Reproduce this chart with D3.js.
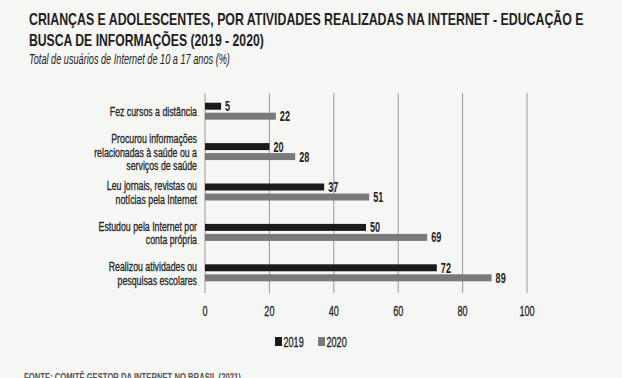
<!DOCTYPE html>
<html><head><meta charset="utf-8">
<script src="https://cdn.jsdelivr.net/npm/d3@7"></script>
<style>
html,body{margin:0;padding:0;background:#f6f6f5;}
svg{display:block;}
text{font-family:"Liberation Sans",Arial,sans-serif;}
</style></head>
<body>
<svg id="c" width="622" height="378"></svg>
<script>
const categories = [
  ["Fez cursos a distância"],
  ["Procurou informações", "relacionadas à saúde ou a", "serviços de saúde"],
  ["Leu jornais, revistas ou", "notícias pela Internet"],
  ["Estudou pela Internet por", "conta própria"],
  ["Realizou atividades ou", "pesquisas escolares"]
];
const series = ["2019", "2020"];
const values2019 = [5, 20, 37, 50, 72];
const values2020 = [22, 28, 51, 69, 89];
const xTicks = [0, 20, 40, 60, 80, 100];
const colors = ["#1b1b1b", "#7a7a7a"];

const SX = 0.65; // horizontal compression to mimic condensed font
const svg = d3.select("#c");
const W = 622, H = 378;
svg.append("rect").attr("width", W).attr("height", H).attr("fill", "#f6f6f5");

function ctext(parent, x, y, str, anchor, size, weight, fill, sx) {
  const g = parent.append("g").attr("transform", `translate(${x},${y}) scale(${sx || SX},1)`);
  return g.append("text").attr("x",0).attr("y",0)
    .attr("text-anchor", anchor || "start")
    .attr("font-size", size).attr("font-weight", weight || "normal")
    .attr("fill", fill || "#222").text(str);
}
// text squeezed to a target width
function fitText(x, y, str, width, size, weight, fill, family, style) {
  const g = svg.append("g");
  const t = g.append("text").attr("x",0).attr("y",0)
    .attr("font-size", size).attr("font-weight", weight).attr("fill", fill).text(str);
  if (family) t.attr("font-family", family);
  if (style) t.attr("font-style", style);
  const w = t.node().getComputedTextLength();
  g.attr("transform", `translate(${x},${y}) scale(${width / w},1)`);
  return t;
}

// Title
fitText(29, 25, "CRIANÇAS E ADOLESCENTES, POR ATIVIDADES REALIZADAS NA INTERNET - EDUCAÇÃO E", 555, 16.5, "bold", "#1e1e1e");
fitText(29, 46, "BUSCA DE INFORMAÇÕES (2019 - 2020)", 235, 16.5, "bold", "#1e1e1e");
fitText(29, 64, "Total de usuários de Internet de 10 a 17 anos (%)", 201, 14, "normal", "#222",
        "Liberation Serif, DejaVu Serif, serif", "italic");

const x = d3.scaleLinear().domain([0,100]).range([205,527]);
const y = d3.scaleBand().domain(d3.range(categories.length)).range([91,293]);
const sub = d3.scaleBand().domain(series).range([0,17]).paddingInner(0.3);

// Grid lines
svg.append("g").selectAll("line").data(xTicks).join("line")
  .attr("x1", d=>x(d)).attr("x2", d=>x(d))
  .attr("y1", 93).attr("y2", 293)
  .attr("stroke", "#9a9a9a").attr("stroke-width", 1);

// Tick labels
const ag = svg.append("g");
xTicks.forEach(t => {
  ctext(ag, x(t), 316, d3.format("d")(t), "middle", 14, "normal", "#222")
    .attr("stroke","#222").attr("stroke-width",0.3);
});

// Bars
const data = [values2019, values2020];
categories.forEach((cat, i) => {
  const cy = y(i) + y.bandwidth()/2;
  const top = cy - 8.5;
  series.forEach((s, j) => {
    const v = data[j][i];
    svg.append("rect")
      .attr("x", x(0)).attr("y", top + sub(s))
      .attr("width", x(v) - x(0)).attr("height", sub.bandwidth())
      .attr("fill", colors[j]);
    ctext(svg, x(v) + 4, top + sub(s) + sub.bandwidth()/2 + 5, v, "start", 14, "bold", "#1e1e1e");
  });
  const n = cat.length;
  cat.forEach((line, k) => {
    ctext(svg, 197, cy + 5 + (k - (n-1)/2) * 13.5, line, "end", 13.5, "normal", "#222")
      .attr("stroke","#222").attr("stroke-width",0.3);
  });
});

// Legend
const lg = svg.append("g").attr("transform","translate(275,342)");
series.forEach((s, j) => {
  const g = lg.append("g").attr("transform",`translate(${j*43},0)`);
  g.append("rect").attr("x",0).attr("y",-5).attr("width",7).attr("height",9).attr("fill",colors[j]);
  ctext(g, 8.5, 5, s, "start", 14, "normal", "#222").attr("stroke","#222").attr("stroke-width",0.3);
});

// Source (cut off at bottom, as in the reference)
fitText(24, 381, "FONTE: COMITÊ GESTOR DA INTERNET NO BRASIL (2021)", 217, 10, "bold", "#555");
</script>
</body></html>
